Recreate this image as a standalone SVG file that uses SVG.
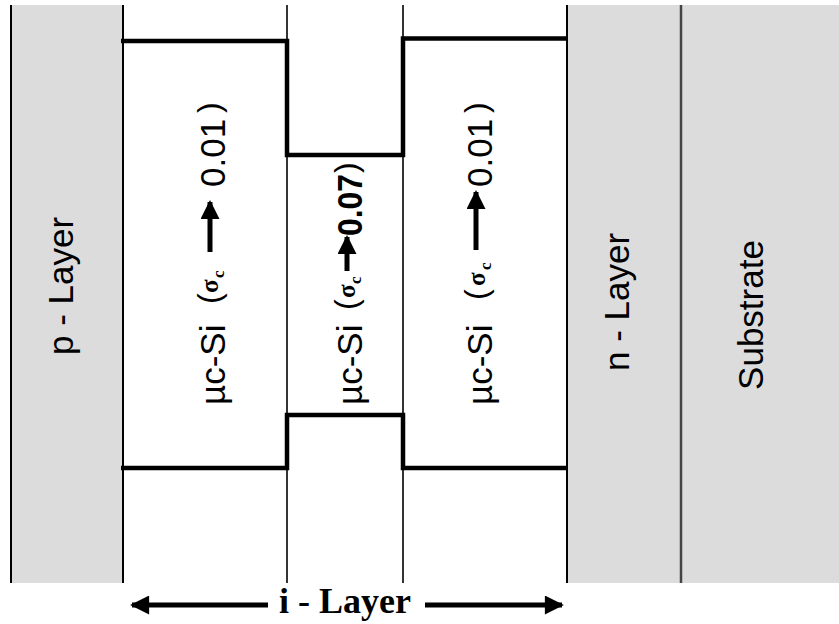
<svg xmlns="http://www.w3.org/2000/svg" width="839" height="624" viewBox="0 0 839 624">
<style>
.lbl{font-family:"Liberation Sans",Arial,sans-serif;font-size:35px;fill:#000}
.par{font-family:"Liberation Sans",Arial,sans-serif;font-size:32px;fill:#000}
.sig{font-family:"Liberation Serif","Times New Roman",serif;font-size:25px;font-weight:bold;fill:#000}
.sub{font-family:"Liberation Serif","Times New Roman",serif;font-size:17px;font-weight:bold;fill:#000}
.ilbl{font-family:"Liberation Serif","Times New Roman",serif;font-size:36px;font-weight:bold;fill:#000}
.vl{stroke:#000;fill:none}
.prof{stroke:#000;stroke-width:4.5;fill:none;stroke-linejoin:miter}
.arr{stroke:#000;stroke-width:5;fill:none}
</style>
<defs>
<marker id="ah" viewBox="0 0 10 10" refX="9" refY="5" markerWidth="4" markerHeight="3.8" orient="auto" markerUnits="strokeWidth">
<path d="M0,0 L10,5 L0,10 z" fill="#000"/>
</marker>
</defs>
<rect width="839" height="624" fill="#fff"/>
<g id="p-layer">
<rect x="11" y="5" width="112" height="578" fill="#dcdcdc"/>
<text class="lbl" transform="translate(73,286) rotate(-90)" text-anchor="middle">p - Layer</text>
</g>
<g id="n-layer">
<rect x="567" y="5" width="114" height="578" fill="#dcdcdc"/>
<text class="lbl" transform="translate(629,302) rotate(-90)" text-anchor="middle">n - Layer</text>
</g>
<g id="substrate">
<rect x="681" y="5" width="158" height="578" fill="#dcdcdc"/>
<text class="lbl" transform="translate(763,315) rotate(-90)" text-anchor="middle">Substrate</text>
</g>
<g id="boundaries">
<line class="vl" x1="11" y1="5" x2="11" y2="583" stroke-width="2"/>
<line class="vl" x1="123" y1="5" x2="123" y2="583" stroke-width="2"/>
<line class="vl" x1="287" y1="5" x2="287" y2="583" stroke-width="1.6"/>
<line class="vl" x1="403" y1="5" x2="403" y2="583" stroke-width="1.6"/>
<line class="vl" x1="567" y1="5" x2="567" y2="583" stroke-width="2"/>
<line x1="681" y1="5" x2="681" y2="583" stroke="#444" stroke-width="2.5"/>
</g>
<g id="profile">
<path class="prof" d="M121,41 H287 V155 H403 V38.5 H567"/>
<path class="prof" d="M121,468 H287 V415 H403 V468 H567"/>
</g>
<g id="i-left">
<g transform="translate(225,405) rotate(-90)">
<text class="lbl" x="0" y="0">µc-Si</text>
<text class="par" x="101" y="-5">(</text>
<text class="sig" x="112" y="-7">σ</text>
<text class="sub" x="127" y="-1">c</text>
<line class="arr" x1="153" y1="-15" x2="203" y2="-15" marker-end="url(#ah)"/>
<text class="lbl" x="218" y="0">0.01</text>
<text class="par" x="292" y="-5">)</text>
</g>
</g>
<g id="i-middle">
<g transform="translate(362,405) rotate(-90)">
<text class="lbl" x="0" y="0">µc-Si</text>
<text class="par" x="95" y="-5">(</text>
<text class="sig" x="107" y="-7">σ</text>
<text class="sub" x="121" y="-1">c</text>
<line class="arr" x1="134" y1="-15" x2="168" y2="-15" marker-end="url(#ah)"/>
<text class="lbl" x="169" y="0" font-weight="bold" textLength="62" lengthAdjust="spacingAndGlyphs">0.07</text>
<text class="par" x="232" y="-5">)</text>
</g>
</g>
<g id="i-right">
<g transform="translate(492,405) rotate(-90)">
<text class="lbl" x="0" y="0">µc-Si</text>
<text class="par" x="105" y="-5">(</text>
<text class="sig" x="119" y="-7">σ</text>
<text class="sub" x="135" y="-1">c</text>
<line class="arr" x1="155" y1="-16" x2="213" y2="-16" marker-end="url(#ah)"/>
<text class="lbl" x="218" y="0">0.01</text>
<text class="par" x="292" y="-5">)</text>
</g>
</g>
<g id="connectors">
<line class="arr" x1="268" y1="605" x2="132" y2="605" marker-end="url(#ah)"/>
<line class="arr" x1="425" y1="605" x2="562" y2="605" marker-end="url(#ah)"/>
</g>
<g id="i-layer-label">
<text class="ilbl" x="345" y="613" text-anchor="middle">i - Layer</text>
</g>
</svg>
